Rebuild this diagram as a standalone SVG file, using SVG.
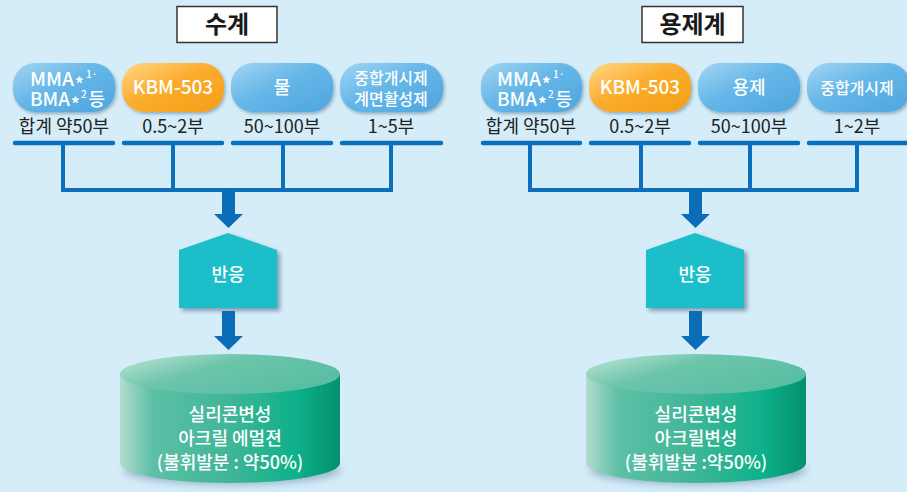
<svg xmlns="http://www.w3.org/2000/svg" width="907" height="492" viewBox="0 0 907 492">
  <defs>
    <linearGradient id="gBlue" x1="0" y1="0" x2="1" y2="1">
      <stop offset="0" stop-color="#a3d5f3"/>
      <stop offset="0.45" stop-color="#66b7e8"/>
      <stop offset="1" stop-color="#4ea5de"/>
    </linearGradient>
    <linearGradient id="gOrange" x1="0" y1="0" x2="1" y2="1">
      <stop offset="0" stop-color="#ffd889"/>
      <stop offset="0.45" stop-color="#fbad2e"/>
      <stop offset="1" stop-color="#f49d16"/>
    </linearGradient>
    <linearGradient id="gSide" x1="0" y1="0" x2="1" y2="0">
      <stop offset="0" stop-color="#b2dccd"/>
      <stop offset="0.15" stop-color="#5cbfa6"/>
      <stop offset="0.5" stop-color="#3fb697"/>
      <stop offset="0.8" stop-color="#0db18a"/>
      <stop offset="1" stop-color="#04906e"/>
    </linearGradient>
    <linearGradient id="gTop" x1="0" y1="0" x2="1" y2="0.6">
      <stop offset="0" stop-color="#c4e5d9"/>
      <stop offset="0.45" stop-color="#6cc5ab"/>
      <stop offset="1" stop-color="#59bea3"/>
    </linearGradient>
    <filter id="sh" x="-20%" y="-20%" width="150%" height="160%">
      <feDropShadow dx="1.5" dy="2" stdDeviation="1.5" flood-color="#1a3a5a" flood-opacity="0.35"/>
    </filter>
    <filter id="sh2" x="-20%" y="-20%" width="150%" height="150%">
      <feDropShadow dx="3" dy="3" stdDeviation="2" flood-color="#1a3a5a" flood-opacity="0.45"/>
    </filter>
    <filter id="blur" x="-30%" y="-100%" width="160%" height="300%">
      <feGaussianBlur stdDeviation="4"/>
    </filter>
  </defs>
  <style>
    text { font-family: "Noto Sans CJK KR", "Noto Sans", sans-serif; }
    .title { font-size: 24px; font-weight: 700; fill: #1a1a1a; text-anchor: middle; }
    .tbox { fill: #ffffff; stroke: #333333; stroke-width: 1.5; }
    .pill { filter: url(#sh); }
    .pt { font-size: 18px; font-weight: 500; fill: #ffffff; text-anchor: middle; }
    .pl { font-size: 18px; font-weight: 500; fill: #ffffff; }
    .star { font-size: 17px; font-weight: 700; fill: #ffffff; }
    .sup { font-size: 10px; font-weight: 500; fill: #ffffff; }
    .pt2 { font-size: 16px; font-weight: 500; fill: #ffffff; text-anchor: middle; }
    .amt { font-size: 18px; fill: #222222; text-anchor: middle; }
    .bar { stroke: #0b6fbb; stroke-width: 4.5; stroke-linecap: round; fill: none; }
    .ln { stroke: #0b6fbb; stroke-width: 4; fill: none; }
    .arr { fill: #0b6cb8; }
    .react { fill: #1ebec9; filter: url(#sh2); }
    .rt { font-size: 18px; font-weight: 500; fill: #ffffff; text-anchor: middle; }
    .ct { font-size: 18px; font-weight: 500; fill: #ffffff; text-anchor: middle; }
  </style>
  <rect x="0" y="0" width="907" height="492" fill="#d5edf9"/>

  <!-- LEFT: 수계 -->
  <g id="title-left">
    <rect class="tbox" x="177" y="6.5" width="100" height="36"/>
    <text class="title" x="227" y="33">수계</text>
  </g>
  <g id="L-mma">
    <rect class="pill" x="13" y="63" width="102" height="49" rx="22" fill="url(#gBlue)"/>
    <text class="pl" x="30" y="86" textLength="44" lengthAdjust="spacingAndGlyphs">MMA</text>
    <text class="star" x="75" y="90">*</text>
    <text class="sup" x="86" y="78">1·</text>
    <text class="pl" x="30" y="106" textLength="40" lengthAdjust="spacingAndGlyphs">BMA</text>
    <text class="star" x="71" y="110">*</text>
    <text class="sup" x="81" y="98">2</text>
    <text class="pl" x="88.5" y="106">등</text>
    <text class="amt" x="64" y="133">합계 약50부</text>
  </g>
  <g id="L-kbm">
    <rect class="pill" x="122" y="63" width="102" height="49" rx="22" fill="url(#gOrange)"/>
    <text class="pt" x="173" y="94" style="font-size:19px">KBM-503</text>
    <text class="amt" x="173" y="133">0.5~2부</text>
  </g>
  <g id="L-water">
    <rect class="pill" x="231" y="63" width="102" height="49" rx="22" fill="url(#gBlue)"/>
    <text class="pt" x="282" y="94">물</text>
    <text class="amt" x="282" y="133">50~100부</text>
  </g>
  <g id="L-init">
    <rect class="pill" x="340" y="63" width="103" height="49" rx="22" fill="url(#gBlue)"/>
    <text class="pt2" x="391" y="84">중합개시제</text>
    <text class="pt2" x="391" y="105">계면활성제</text>
    <text class="amt" x="391" y="133">1~5부</text>
  </g>
  <g id="L-reaction">
    <polygon class="react" points="179,250 228,233 277,250 277,308 179,308"/>
    <text class="rt" x="228" y="281">반응</text>
  </g>
  <g id="L-product">
    <ellipse cx="232" cy="470" rx="108" ry="14" fill="#1a3a5a" opacity="0.35" filter="url(#blur)"/>
    <path d="M120,374 L120,463 A110,20 0 0 0 340,463 L340,374 Z" fill="url(#gSide)"/>
    <ellipse cx="230" cy="374" rx="110" ry="20" fill="url(#gTop)"/>
    <text class="ct" x="230" y="421">실리콘변성</text>
    <text class="ct" x="230" y="445">아크릴 에멀젼</text>
    <text class="ct" x="230" y="469">(불휘발분 : 약50%)</text>
  </g>

  <!-- RIGHT: 용제계 -->
  <g id="title-right">
    <rect class="tbox" x="642" y="6.5" width="101" height="36"/>
    <text class="title" x="692.5" y="33">용제계</text>
  </g>
  <g id="R-mma">
    <rect class="pill" x="481" y="63" width="101" height="49" rx="22" fill="url(#gBlue)"/>
    <text class="pl" x="497" y="86" textLength="44" lengthAdjust="spacingAndGlyphs">MMA</text>
    <text class="star" x="542" y="90">*</text>
    <text class="sup" x="553" y="78">1·</text>
    <text class="pl" x="497" y="106" textLength="40" lengthAdjust="spacingAndGlyphs">BMA</text>
    <text class="star" x="538" y="110">*</text>
    <text class="sup" x="548" y="98">2</text>
    <text class="pl" x="555.5" y="106">등</text>
    <text class="amt" x="531" y="133">합계 약50부</text>
  </g>
  <g id="R-kbm">
    <rect class="pill" x="589" y="63" width="102" height="49" rx="22" fill="url(#gOrange)"/>
    <text class="pt" x="640" y="94" style="font-size:19px">KBM-503</text>
    <text class="amt" x="640" y="133">0.5~2부</text>
  </g>
  <g id="R-solvent">
    <rect class="pill" x="698" y="63" width="102" height="49" rx="22" fill="url(#gBlue)"/>
    <text class="pt" x="749" y="94">용제</text>
    <text class="amt" x="749" y="133">50~100부</text>
  </g>
  <g id="R-init">
    <rect class="pill" x="807" y="63" width="103" height="49" rx="22" fill="url(#gBlue)"/>
    <text class="pt2" x="857" y="94">중합개시제</text>
    <text class="amt" x="857" y="133">1~2부</text>
  </g>
  <g id="R-reaction">
    <polygon class="react" points="646,250 695,233 744,250 744,308 646,308"/>
    <text class="rt" x="695" y="281">반응</text>
  </g>
  <g id="R-product">
    <ellipse cx="698" cy="470" rx="108" ry="14" fill="#1a3a5a" opacity="0.35" filter="url(#blur)"/>
    <path d="M586,374 L586,463 A110,20 0 0 0 806,463 L806,374 Z" fill="url(#gSide)"/>
    <ellipse cx="696" cy="374" rx="110" ry="20" fill="url(#gTop)"/>
    <text class="ct" x="696" y="421">실리콘변성</text>
    <text class="ct" x="696" y="445">아크릴변성</text>
    <text class="ct" x="696" y="469">(불휘발분 :약50%)</text>
  </g>

  <g id="connectors">
    <!-- left -->
    <line class="bar" x1="15" y1="143" x2="113" y2="143"/>
    <line class="bar" x1="124" y1="143" x2="222" y2="143"/>
    <line class="bar" x1="233" y1="143" x2="331" y2="143"/>
    <line class="bar" x1="342" y1="143" x2="441" y2="143"/>
    <path class="ln" d="M63,143 V190 M173,143 V190 M283,143 V190 M391,143 V190 M61,190 H393"/>
    <polygon class="arr" points="222,190 235,190 235,214 243,214 228.5,228 214,214 222,214"/>
    <polygon class="arr" points="222,311 235,311 235,336 243,336 228.5,350 214,336 222,336"/>
    <!-- right -->
    <line class="bar" x1="483" y1="143" x2="580" y2="143"/>
    <line class="bar" x1="591" y1="143" x2="689" y2="143"/>
    <line class="bar" x1="700" y1="143" x2="798" y2="143"/>
    <line class="bar" x1="809" y1="143" x2="909" y2="143"/>
    <path class="ln" d="M530,143 V190 M641,143 V190 M750,143 V190 M857,143 V190 M528,190 H859"/>
    <polygon class="arr" points="689,190 702,190 702,214 710,214 695.5,228 681,214 689,214"/>
    <polygon class="arr" points="689,311 702,311 702,336 710,336 695.5,350 681,336 689,336"/>
  </g>
</svg>
